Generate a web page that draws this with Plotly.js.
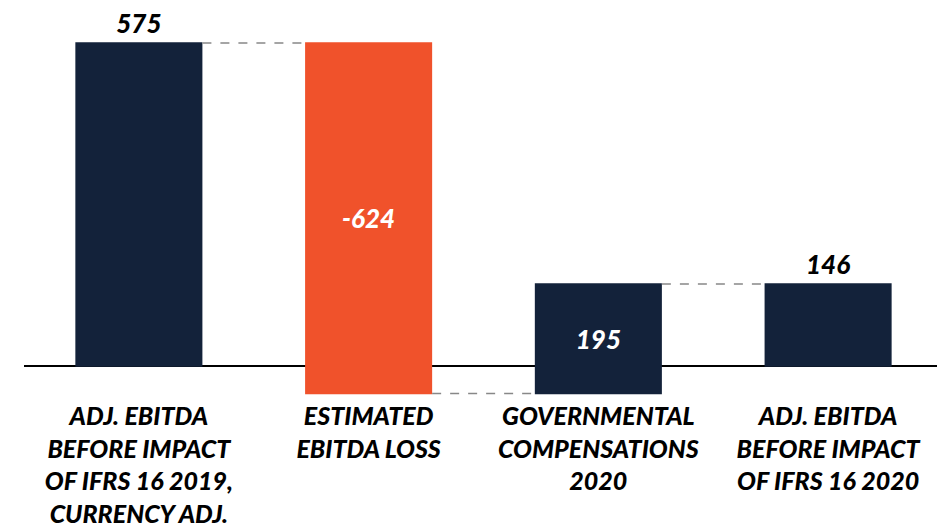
<!DOCTYPE html>
<html>
<head>
<meta charset="utf-8">
<script src="https://cdn.plot.ly/plotly-3.0.1.min.js"></script>
<style>html,body{margin:0;padding:0;background:#fff;}#chart{width:937px;height:526px;}</style>
</head>
<body>
<div id="chart"></div>
<script>
var categories = [
  "ADJ. EBITDA<br>BEFORE IMPACT<br>OF IFRS 16 2019,<br>CURRENCY ADJ.",
  "ESTIMATED<br>EBITDA LOSS",
  "GOVERNMENTAL<br>COMPENSATIONS<br>2020",
  "ADJ. EBITDA<br>BEFORE IMPACT<br>OF IFRS 16 2020"
];
var values = [575, -624, 195, 146];
var measures = ["absolute", "relative", "relative", "total"];
var valueLabels = ["575", "-624", "195", "146"];
var labelPositions = ["outside", "inside", "inside", "outside"];

var NAVY = "#13223a";
var ORANGE = "#f0522b";
var FONT = "Lato";

var trace = {
  type: "waterfall",
  x: categories,
  y: values,
  measure: measures,
  text: valueLabels,
  textinfo: "text",
  textposition: labelPositions,
  insidetextanchor: "middle",
  textfont: {family: FONT, size: 26, weight: 900, style: "italic"},
  insidetextfont: {family: FONT, size: 26, weight: 900, style: "italic", color: "#ffffff"},
  outsidetextfont: {family: FONT, size: 26, weight: 900, style: "italic", color: "#000000"},
  constraintext: "none",
  cliponaxis: false,
  width: 0.553,
  increasing: {marker: {color: NAVY, line: {width: 0}}},
  decreasing: {marker: {color: ORANGE, line: {width: 0}}},
  totals: {marker: {color: NAVY, line: {width: 0}}},
  connector: {mode: "between", line: {color: "#888888", width: 1.5, dash: "dash"}},
  hoverinfo: "skip"
};

var layout = {
  width: 937,
  height: 526,
  margin: {l: 24, r: 0, t: 10, b: 127},
  paper_bgcolor: "#ffffff",
  plot_bgcolor: "#ffffff",
  showlegend: false,
  xaxis: {
    range: [-0.5, 3.474],
    showgrid: false,
    showline: false,
    zeroline: false,
    ticks: "",
    tickfont: {family: FONT, size: 25, weight: 900, style: "italic", color: "#000000"}
  },
  yaxis: {
    range: [-58.7, 633.8],
    showgrid: false,
    showline: false,
    showticklabels: false,
    ticks: "",
    zeroline: true,
    zerolinecolor: "#000000",
    zerolinewidth: 2
  }
};

Plotly.newPlot("chart", [trace], layout, {displayModeBar: false, staticPlot: true});
</script>
</body>
</html>
